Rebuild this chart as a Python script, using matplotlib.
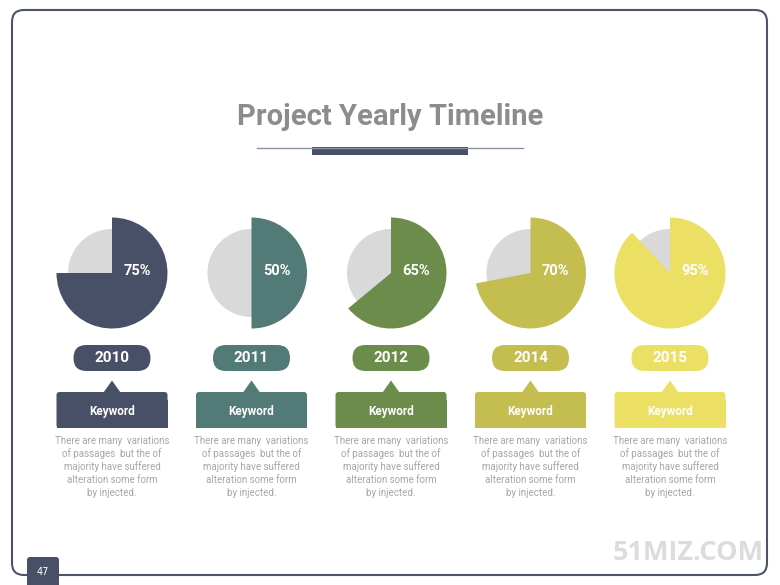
import matplotlib.pyplot as plt
from matplotlib.patches import Wedge, Circle, FancyBboxPatch, Polygon, Rectangle

# data
years = ["2010", "2011", "2012", "2014", "2015"]
percent_labels = [75, 50, 65, 70, 95]
# share of the circle each coloured wedge covers, as drawn in the reference
pie_fill = [75, 50, 64, 72, 88]
colors = ["#475066", "#527a77", "#6b8c4a", "#c4bd50", "#ece064"]
keyword = "Keyword"
description = ["There are many  variations", "of passages  but the of",
               "majority have suffered", "alteration some form", "by injected."]
title = "Project Yearly Timeline"

fig = plt.figure(figsize=(7.8, 5.85), dpi=100)
ax = fig.add_axes([0, 0, 1, 1])
ax.set_xlim(0, 780)
ax.set_ylim(585, 0)
ax.set_aspect("equal")
ax.axis("off")

navy = "#475066"
font = ["Roboto", "DejaVu Sans"]

# frame
ax.add_patch(FancyBboxPatch((12, 10), 755, 565, boxstyle="round,pad=0,rounding_size=12",
                            fc="white", ec="#4b5568", lw=1.5))

# title and underline
ax.text(390, 117, title, ha="center", va="center", fontsize=21, fontweight="bold",
        color="#8c8c8c", family=font)
ax.plot([257, 523], [147.5, 147.5], color="#8a93a3", lw=1)
ax.add_patch(Rectangle((312, 147), 156, 8, fc=navy, ec="none"))

x0, step = 112, 139.5
cy = 273
for i, (yr, lab, fill, c) in enumerate(zip(years, percent_labels, pie_fill, colors)):
    cx = x0 + i * step
    # pie
    ax.add_patch(Circle((cx, cy), 44, fc="#d9d9d9", ec="none"))
    ax.add_patch(Wedge((cx, cy), 55.5, -90, -90 + 360 * fill / 100, fc=c, ec="none"))
    ax.text(cx + 25, cy - 2, f"{lab}%", ha="center", va="center", fontsize=10.5,
            fontweight="bold", color="white", family=font)
    # year pill
    ax.add_patch(FancyBboxPatch((cx - 38.5, 345), 77, 26, boxstyle="round,pad=0,rounding_size=13",
                                fc=c, ec="none"))
    ax.text(cx, 358.5, yr, ha="center", va="center", fontsize=11, fontweight="bold",
            color="white", family=font)
    # keyword box with pointer
    ax.add_patch(FancyBboxPatch((cx - 55.5, 392), 111, 36, boxstyle="round,pad=0,rounding_size=3",
                                fc=c, ec="none"))
    ax.add_patch(Rectangle((cx - 55.5, 400), 111, 28, fc=c, ec="none"))
    ax.add_patch(Polygon([(cx - 8.5, 392.5), (cx, 380.5), (cx + 8.5, 392.5)], closed=True,
                         fc=c, ec="none"))
    ax.text(cx, 411, keyword, ha="center", va="center", fontsize=8.5, fontweight="bold",
            color="white", family=font)
    for k, line in enumerate(description):
        ax.text(cx, 441 + 13 * k, line, ha="center", va="center", fontsize=7,
                color="#a6a6a6", family=font)

# page number tab
ax.add_patch(FancyBboxPatch((27, 557), 32, 35, boxstyle="round,pad=0,rounding_size=3",
                            fc=navy, ec="none"))
ax.text(43, 572, "47", ha="center", va="center", fontsize=7, color="white")

# watermark
ax.text(688, 553, "51MIZ.COM", ha="center", va="center", fontsize=19.5, fontweight="bold",
        color="#dcdcdc", family=["Open Sans", "DejaVu Sans"])

fig.savefig("out.png", dpi=100)
